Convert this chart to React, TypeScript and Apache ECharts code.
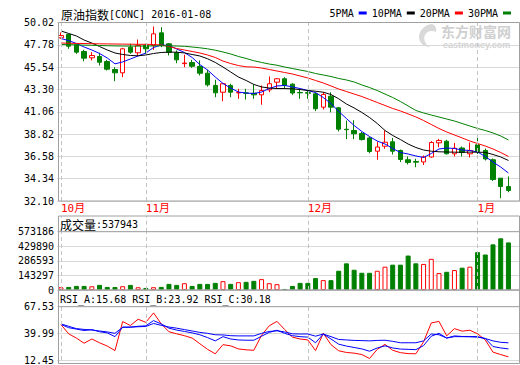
import React, { useEffect, useRef } from 'react';
import * as echarts from 'echarts';

const MONO = '"DejaVu Sans Mono", "Liberation Mono", monospace';
const CJK = '"Noto Sans CJK SC", sans-serif';

const categories = [
  '2015-10-16', '2015-10-19', '2015-10-20', '2015-10-21', '2015-10-22', '2015-10-23', '2015-10-26', '2015-10-27', '2015-10-28', '2015-10-29',
  '2015-10-30', '2015-11-02', '2015-11-03', '2015-11-04', '2015-11-05', '2015-11-06', '2015-11-09', '2015-11-10', '2015-11-11', '2015-11-12',
  '2015-11-13', '2015-11-16', '2015-11-17', '2015-11-18', '2015-11-19', '2015-11-20', '2015-11-23', '2015-11-24', '2015-11-25', '2015-11-26',
  '2015-11-27', '2015-11-30', '2015-12-01', '2015-12-02', '2015-12-03', '2015-12-04', '2015-12-07', '2015-12-08', '2015-12-09', '2015-12-10',
  '2015-12-11', '2015-12-14', '2015-12-15', '2015-12-16', '2015-12-17', '2015-12-18', '2015-12-21', '2015-12-22', '2015-12-23', '2015-12-24',
  '2015-12-28', '2015-12-29', '2015-12-30', '2015-12-31', '2016-01-04', '2016-01-05', '2016-01-06', '2016-01-07', '2016-01-08',
];

const opens = [
  48.48, 48.82, 47.78, 47.11, 46.48, 46.61, 46.10, 45.30, 44.97, 47.54,
  46.98, 47.71, 47.71, 48.98, 47.88, 46.98, 45.89, 46.00, 45.60, 44.93,
  43.70, 43.02, 43.70, 42.96, 42.95, 42.92, 42.76, 43.26, 44.03, 44.37,
  43.83, 43.00, 42.98, 42.86, 41.52, 42.62, 41.46, 39.30, 39.18, 38.88,
  38.43, 37.10, 37.60, 38.04, 37.17, 36.24, 36.07, 36.02, 36.52, 37.94,
  38.10, 36.84, 37.42, 36.84, 37.74, 37.17, 36.24, 34.39, 33.55,
];
const closes = [
  48.71, 47.64, 47.04, 46.44, 46.71, 46.03, 45.33, 44.97, 47.38, 47.04,
  47.71, 47.38, 48.88, 47.71, 47.04, 46.27, 45.95, 45.63, 44.93, 43.76,
  42.96, 43.87, 43.02, 42.98, 42.92, 42.76, 43.19, 43.87, 44.37, 43.70,
  42.94, 42.96, 42.92, 41.36, 42.79, 41.52, 39.31, 39.26, 38.85, 38.27,
  37.07, 37.52, 38.00, 37.10, 36.27, 35.97, 36.00, 36.52, 37.97, 38.17,
  36.84, 37.40, 36.97, 37.17, 37.07, 36.32, 34.26, 33.55, 33.15,
];
const lows = [
  48.40, 47.38, 46.88, 46.13, 46.21, 45.70, 45.20, 44.13, 44.53, 46.88,
  46.71, 46.90, 47.28, 47.54, 46.71, 45.93, 45.53, 45.47, 44.70, 43.59,
  42.52, 42.12, 42.52, 42.36, 42.29, 42.36, 41.76, 43.02, 43.40, 43.36,
  42.76, 42.36, 42.36, 41.12, 41.29, 41.00, 39.08, 38.32, 38.30, 38.17,
  36.90, 36.24, 37.34, 36.77, 36.00, 35.77, 35.49, 35.72, 36.45, 37.50,
  36.77, 36.57, 36.57, 36.47, 36.82, 36.17, 34.11, 32.38, 32.98,
];
const highs = [
  49.02, 48.85, 47.88, 47.28, 47.04, 46.98, 46.27, 45.53, 47.48, 47.88,
  48.31, 47.88, 49.62, 49.55, 47.94, 47.21, 46.78, 46.27, 46.21, 45.27,
  44.27, 43.93, 43.87, 43.36, 43.36, 43.80, 43.70, 44.60, 44.45, 44.53,
  43.93, 43.26, 43.26, 43.02, 43.04, 43.02, 41.52, 40.18, 40.21, 39.03,
  38.57, 38.07, 39.18, 38.44, 37.27, 36.57, 36.34, 36.67, 38.11, 38.34,
  38.24, 37.93, 37.57, 37.97, 38.52, 37.37, 36.37, 34.39, 34.56,
];

const volumes = [
  27100, 30200, 40300, 40100, 36800, 50400, 30100, 29800, 37200, 50100,
  27000, 20300, 27200, 30400, 60200, 50300, 66800, 40200, 60100, 59800,
  70300, 86900, 60200, 77100, 80300, 90100, 106800, 66900, 57200, 10100,
  40100, 70200, 69900, 116800, 97200, 96900, 189300, 262100, 199200, 169400,
  169100, 189100, 229300, 249100, 248900, 338800, 262300, 256100, 306200, 166300,
  179100, 196200, 219300, 229100, 372400, 348900, 448800, 508200, 467900,
];
const lastVolume = 537943;

const ma5 = [
  48.41, 48.21, 47.91, 47.56, 47.26, 46.91, 46.46, 45.87, 46.06, 46.36,
  46.66, 46.96, 47.51, 47.76, 47.71, 47.36, 47.01, 46.51, 45.80, 45.25,
  44.55, 43.90, 43.44, 43.04, 42.94, 42.89, 43.04, 43.39, 43.65, 43.70,
  43.55, 43.39, 43.19, 42.99, 42.49, 41.89, 41.09, 40.38, 39.68, 39.08,
  38.57, 38.12, 37.82, 37.37, 36.97, 36.82, 36.62, 36.47, 36.87, 37.32,
  37.42, 37.37, 37.22, 37.17, 37.02, 36.57, 36.01, 35.51, 34.91,
];
const ma10 = [
  49.17, 48.92, 48.67, 48.26, 47.96, 47.61, 47.26, 46.96, 46.81, 46.71,
  46.68, 46.76, 46.91, 47.01, 47.04, 47.04, 46.96, 46.81, 46.66, 46.38,
  46.01, 45.55, 45.05, 44.55, 44.20, 43.80, 43.55, 43.44, 43.39, 43.39,
  43.36, 43.29, 43.19, 43.12, 43.02, 42.79, 42.36, 41.84, 41.44, 40.99,
  40.48, 39.88, 39.18, 38.68, 38.27, 37.82, 37.47, 37.22, 37.10, 37.04,
  37.02, 37.00, 36.99, 37.01, 37.00, 36.98, 36.77, 36.52, 36.17,
];
const ma20 = [
  47.96, 47.94, 47.92, 47.91, 47.89, 47.88, 47.87, 47.86, 47.85, 47.84,
  47.83, 47.83, 47.81, 47.76, 47.61, 47.41, 47.26, 47.11, 46.96, 46.76,
  46.51, 46.15, 45.90, 45.70, 45.57, 45.55, 45.45, 45.30, 45.15, 45.00,
  44.85, 44.65, 44.45, 44.20, 43.95, 43.65, 43.34, 43.09, 42.84, 42.59,
  42.29, 41.99, 41.69, 41.39, 41.14, 40.84, 40.54, 40.18, 39.78, 39.38,
  39.03, 38.73, 38.43, 38.12, 37.87, 37.62, 37.32, 36.97, 36.57,
];
const ma30 = [
  47.81, 47.79, 47.77, 47.75, 47.73, 47.71, 47.69, 47.67, 47.66, 47.65,
  47.65, 47.66, 47.67, 47.68, 47.68, 47.66, 47.63, 47.56, 47.48, 47.38,
  47.24, 47.06, 46.86, 46.61, 46.41, 46.18, 46.01, 45.85, 45.73, 45.55,
  45.40, 45.25, 45.10, 44.90, 44.75, 44.60, 44.40, 44.25, 44.05, 43.75,
  43.49, 43.19, 42.84, 42.49, 42.09, 41.64, 41.19, 40.94, 40.73, 40.53,
  40.33, 40.13, 39.88, 39.63, 39.38, 39.18, 38.93, 38.63, 38.23,
];

const rsiA = [
  49.04, 39.50, 35.13, 29.78, 34.15, 30.26, 26.85, 22.18, 52.15, 48.07,
  54.59, 51.38, 61.11, 49.72, 41.65, 39.50, 37.56, 35.13, 29.29, 23.45,
  18.87, 28.31, 27.05, 23.93, 22.96, 22.48, 38.05, 47.78, 52.35, 43.88,
  36.10, 34.15, 33.18, 22.18, 39.99, 28.31, 21.99, 20.24, 19.55, 18.09,
  14.01, 23.45, 28.61, 22.48, 20.04, 19.07, 18.87, 31.23, 50.70, 52.35,
  37.36, 44.86, 42.23, 43.20, 39.50, 33.18, 20.53, 18.09, 15.68,
];
const rsiB = [
  49.24, 45.83, 44.37, 42.91, 43.88, 41.65, 40.48, 36.58, 46.32, 46.32,
  47.29, 47.78, 53.13, 49.72, 45.35, 43.40, 41.94, 40.48, 38.53, 35.61,
  32.21, 36.58, 34.15, 33.18, 32.89, 32.89, 37.07, 40.96, 43.20, 39.99,
  37.56, 36.58, 36.10, 30.26, 39.31, 34.15, 28.80, 26.85, 25.39, 23.93,
  21.50, 24.91, 27.05, 24.91, 23.74, 23.45, 23.16, 27.34, 37.07, 39.99,
  35.13, 37.36, 36.78, 36.78, 36.58, 34.64, 26.37, 24.91, 23.92,
];
const rsiC = [
  49.72, 47.29, 44.86, 44.08, 43.40, 42.42, 41.45, 39.99, 46.32, 46.51,
  46.80, 47.10, 50.21, 48.26, 46.51, 45.35, 43.88, 42.42, 40.96, 39.99,
  38.53, 38.34, 37.56, 37.36, 37.36, 37.36, 39.99, 41.94, 42.62, 41.45,
  39.50, 39.31, 39.31, 37.07, 39.31, 36.58, 33.67, 33.18, 32.69, 32.50,
  32.21, 32.69, 32.89, 31.72, 30.26, 30.26, 30.26, 32.21, 39.31, 38.53,
  35.13, 36.58, 36.58, 36.39, 36.10, 34.64, 32.21, 30.74, 30.18,
];

const priceTicks = [32.10, 34.34, 36.58, 38.82, 41.06, 43.30, 45.54, 47.78, 50.02];
const volumeTicks = [0, 143296.5, 286593, 429889.5, 573186];
const rsiTicks = [12.45, 39.99, 67.53];

const RED = '#ff0000';
const GREEN = '#008000';
const BLUE = '#0000ff';
const FRAME = '#a0a0a0';
const GRIDC = '#d9d9d9';

const monthStarts = categories
  .map((c, i) => (i === 0 || c.slice(0, 7) !== categories[i - 1].slice(0, 7) ? i : -1))
  .filter((i) => i >= 0);

// one spare empty band on the right, as in the reference frame
const axisCats = [...categories, ''];

echarts.graphic.registerShape(
  'emLogo',
  echarts.graphic.extendPath(
    'M14 0 C6 1 1 7 1 13 C1 19 6 23 12 23 C7 20 5 15 7 11 C9 7 14 6 18 8 C19 4 17 1 14 0 Z',
    {}
  )
);

function monthMarkLine() {
  return {
    silent: true,
    symbol: ['none', 'none'],
    label: { show: false },
    emphasis: { disabled: true },
    lineStyle: { type: [4, 3], color: '#c4c4c4', width: 1 },
    data: monthStarts.map((i) => ({ xAxis: categories[i] })),
  };
}

function maLine(name: string, data: number[], color: string) {
  return {
    name,
    type: 'line',
    xAxisIndex: 0,
    yAxisIndex: 0,
    data,
    color,
    showSymbol: false,
    symbol: 'none',
    lineStyle: { width: 1, color },
    z: 3,
  };
}

function rsiLine(name: string, data: number[], color: string, withMark: boolean) {
  const s: any = {
    name,
    type: 'line',
    xAxisIndex: 3,
    yAxisIndex: 3,
    data,
    color,
    showSymbol: false,
    symbol: 'none',
    lineStyle: { width: 1, color },
    z: 3,
  };
  if (withMark) s.markLine = monthMarkLine();
  return s;
}

const GRID_LEFT = 57.1;
const GRID_W = 465;

function xAxisFor(gridIndex: number, withLabel: boolean) {
  return {
    type: 'category',
    gridIndex,
    data: axisCats,
    boundaryGap: true,
    axisLine: { show: false },
    axisTick: { show: false },
    splitLine: { show: false },
    axisLabel: withLabel
      ? {
          show: true,
          interval: (i: number) => monthStarts.includes(i),
          formatter: (v: string) => (v ? parseInt(v.slice(5, 7), 10) + '月' : ''),
          color: RED,
          fontFamily: '"DejaVu Sans Mono", "Noto Sans CJK SC"',
          fontSize: 11,
          align: 'left',
          margin: 2,
        }
      : { show: false },
  };
}

function yAxisFor(gridIndex: number, min: number, max: number, ticks: number[] | null, fmt: (v: number) => string) {
  if (!ticks) {
    return { type: 'value', gridIndex, min, max, show: false };
  }
  return {
    type: 'value',
    gridIndex,
    min,
    max,
    axisLine: { show: false },
    axisTick: { show: false, customValues: ticks },
    splitLine: { show: true, lineStyle: { color: GRIDC, width: 1 } },
    axisLabel: {
      customValues: ticks,
      formatter: fmt,
      color: '#000',
      fontFamily: MONO,
      fontSize: 10,
      margin: 3,
    },
  };
}

function frameRect(x: number, y: number, w: number, h: number) {
  return {
    type: 'rect',
    z: 100,
    silent: true,
    shape: { x, y, width: w, height: h },
    style: { fill: 'none', stroke: FRAME, lineWidth: 1 },
  };
}

function hLine(y: number) {
  return {
    type: 'line',
    z: 100,
    silent: true,
    shape: { x1: 58.5, y1: y, x2: 519.5, y2: y },
    style: { stroke: FRAME, lineWidth: 1 },
  };
}

export default function App() {
  const ref = useRef<HTMLDivElement>(null);

  useEffect(() => {
    if (!ref.current) return;
    const chart = echarts.init(ref.current, null, { renderer: 'svg' });

    const candleData = opens.map((o, i) => [o, closes[i], lows[i], highs[i]]);
    const volData = volumes.map((v, i) => ({
      value: v,
      itemStyle:
        closes[i] >= opens[i]
          ? { color: '#ffffff', borderColor: RED, borderWidth: 1 }
          : { color: GREEN, borderColor: GREEN, borderWidth: 1 },
    }));
    const nulls = categories.map(() => null);
    const last = (a: number[]) => a[a.length - 1].toFixed(2);

    const option: any = {
      animation: false,
      textStyle: { fontFamily: MONO },
      legend: {
        data: ['5PMA', '10PMA', '20PMA', '30PMA'],
        right: 9,
        top: 8,
        padding: 0,
        itemGap: 5,
        itemWidth: 8,
        itemHeight: 3,
        icon: 'rect',
        align: 'right',
        selectedMode: false,
        textStyle: { fontFamily: MONO, fontSize: 10, color: '#000' },
      },
      grid: [
        { left: GRID_LEFT, top: 22.5, width: GRID_W, height: 178.5 },
        { left: GRID_LEFT, top: 216, width: GRID_W, height: 15.7 },
        { left: GRID_LEFT, top: 231.7, width: GRID_W, height: 58.3 },
        { left: GRID_LEFT, top: 306.7, width: GRID_W, height: 56.8 },
      ],
      xAxis: [xAxisFor(0, true), xAxisFor(1, false), xAxisFor(2, false), xAxisFor(3, false)],
      yAxis: [
        yAxisFor(0, priceTicks[0], priceTicks[priceTicks.length - 1], priceTicks, (v) => v.toFixed(2)),
        yAxisFor(1, 0, 1, null, (v) => String(v)),
        yAxisFor(2, volumeTicks[0], volumeTicks[volumeTicks.length - 1], volumeTicks, (v) => String(Math.round(v))),
        yAxisFor(3, rsiTicks[0], rsiTicks[rsiTicks.length - 1], rsiTicks, (v) => v.toFixed(2)),
      ],
      series: [
        {
          name: '原油指数',
          type: 'candlestick',
          xAxisIndex: 0,
          yAxisIndex: 0,
          data: candleData,
          barWidth: 5,
          itemStyle: {
            color: '#ffffff',
            color0: GREEN,
            borderColor: RED,
            borderColor0: GREEN,
            borderWidth: 1,
          },
          markLine: monthMarkLine(),
          z: 2,
        },
        maLine('5PMA', ma5, BLUE),
        maLine('10PMA', ma10, '#000000'),
        maLine('20PMA', ma20, RED),
        maLine('30PMA', ma30, GREEN),
        {
          name: 'strip',
          type: 'line',
          xAxisIndex: 1,
          yAxisIndex: 1,
          data: nulls,
          showSymbol: false,
          markLine: monthMarkLine(),
        },
        {
          name: '成交量',
          type: 'bar',
          xAxisIndex: 2,
          yAxisIndex: 2,
          data: volData,
          barWidth: 5,
          markLine: monthMarkLine(),
        },
        rsiLine('RSI_A', rsiA, RED, true),
        rsiLine('RSI_B', rsiB, BLUE, false),
        rsiLine('RSI_C', rsiC, BLUE, false),
      ],
      graphic: [
        { type: 'emLogo', x: 418, y: 24, z: 0, silent: true, style: { fill: '#d9d9d9' } },
        {
          type: 'text',
          x: 441,
          y: 30.5,
          z: 0,
          silent: true,
          style: { text: '东方财富网', font: 'bold 14px "Noto Sans CJK SC"', fill: '#cfcfcf', verticalAlign: 'middle' },
        },
        {
          type: 'text',
          x: 443,
          y: 44.5,
          z: 0,
          silent: true,
          style: { text: 'eastmoney.com', font: 'bold 9px "Liberation Sans"', fill: '#d2d2d2', verticalAlign: 'middle' },
        },
        {
          type: 'text',
          x: 61,
          y: 14,
          z: 100,
          style: {
            text: '{a|原油指数}{b|[CONC] 2016-01-08}',
            verticalAlign: 'middle',
            rich: {
              a: { fontFamily: CJK, fontSize: 12, fill: '#000', color: '#000' },
              b: { fontFamily: MONO, fontSize: 10, fill: '#000', color: '#000' },
            },
          },
        },
        {
          type: 'text',
          x: 60,
          y: 224.5,
          z: 100,
          style: {
            text: '{a|成交量}{b|:' + lastVolume + '}',
            verticalAlign: 'middle',
            rich: {
              a: { fontFamily: CJK, fontSize: 12, color: '#000' },
              b: { fontFamily: MONO, fontSize: 10, color: '#000' },
            },
          },
        },
        {
          type: 'text',
          x: 60,
          y: 299.5,
          z: 100,
          style: {
            text: '{a|RSI_A:' + last(rsiA) + ' }{b|RSI_B:' + last(rsiB) + ' RSI_C:' + last(rsiC) + '}',
            verticalAlign: 'middle',
            rich: {
              a: { fontFamily: MONO, fontSize: 10, color: RED },
              b: { fontFamily: MONO, fontSize: 10, color: BLUE },
            },
          },
        },
        frameRect(58.5, 22.5, 461, 178.5),
        frameRect(58.5, 216, 461, 74),
        hLine(231.7),
        frameRect(58.5, 290, 461, 73.5),
        hLine(306.7),
      ],
    };

    chart.setOption(option);
    return () => chart.dispose();
  }, []);

  return (
    <div
      ref={ref}
      style={{ position: 'fixed', left: 0, top: 0, width: 520, height: 365, background: '#fff' }}
    />
  );
}
